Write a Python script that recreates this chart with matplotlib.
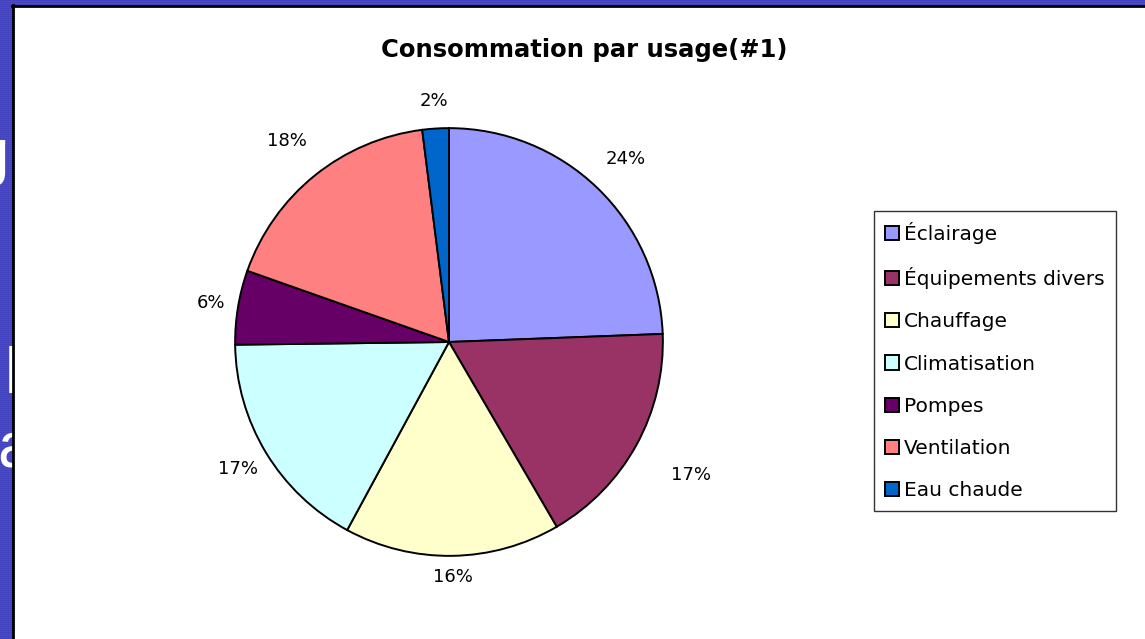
import numpy as np
import matplotlib.pyplot as plt
from matplotlib.patches import Rectangle

plt.rcParams['font.family'] = ['DejaVu Sans']

# données
usages = ['Éclairage', 'Équipements divers', 'Chauffage', 'Climatisation',
          'Pompes', 'Ventilation', 'Eau chaude']
parts = [24.4, 17.2, 16.3, 16.9, 5.6, 17.6, 2.0]
couleurs = ['#9999FF', '#993366', '#FFFFCC', '#CCFFFF', '#660066', '#FF8080', '#0066CC']
titre = 'Consommation par usage(#1)'

W, H = 1145, 639
fig = plt.figure(figsize=(W / 100, H / 100), dpi=100)

# fond rayé de la diapositive
bg = fig.add_axes([0, 0, 1, 1])
rayures = np.zeros((H, 1, 3))
rayures[0::2] = np.array([66, 66, 190]) / 255
rayures[1::2] = np.array([88, 88, 100]) / 255
bg.imshow(rayures, aspect='auto', extent=(0, W, H, 0), interpolation='nearest')
bg.set_xlim(0, W)
bg.set_ylim(H, 0)
bg.axis('off')

# morceaux de texte de la diapositive
for lettre, x, y, ha in [('g', 9, 174, 'right'), ('l', 5, 393, 'left'), ('a', -3, 467, 'left')]:
    bg.text(x, y, lettre, color='white', fontsize=46, ha=ha, va='baseline', zorder=1,
            family='Liberation Sans')

# zone blanche du graphique
bg.add_patch(Rectangle((13, 7), W, H, facecolor='white', edgecolor='none', zorder=2))
bg.plot([12.5, 12.5], [5, H], color='black', lw=2, zorder=3)
bg.plot([11.5, W], [6, 6], color='black', lw=2, zorder=3)

# camembert
cx, cy, r = 449, 342, 216
ax = fig.add_axes([(cx - r) / W, (H - cy - r) / H, 2 * r / W, 2 * r / H])
wedges, _ = ax.pie(parts, colors=couleurs, startangle=90, counterclock=False,
                   wedgeprops=dict(edgecolor='black', linewidth=1.4))
ax.set_xlim(-1.01, 1.01)
ax.set_ylim(-1.01, 1.01)
ax.set_aspect('equal')
ax.axis('off')

dist = [1.19, 1.29, 1.10, 1.15, 1.13, 1.21, 1.13]
for w, p, d in zip(wedges, parts, dist):
    a = np.deg2rad((w.theta1 + w.theta2) / 2)
    ax.text(d * np.cos(a), d * np.sin(a), f'{p:.0f}%', ha='center', va='center',
            fontsize=13, clip_on=False)

fig.text(584 / W, 1 - 50 / H, titre, ha='center', va='center',
         fontsize=17.5, fontweight='bold')

leg = fig.legend(wedges, usages, loc='upper left', bbox_to_anchor=(874 / W, 1 - 211 / H),
                 fontsize=14.5, frameon=True, fancybox=False, borderaxespad=0,
                 handlelength=0.7, handleheight=0.7, handletextpad=0.25,
                 labelspacing=1.15, borderpad=0.55)
leg.get_frame().set_edgecolor('black')
leg.get_frame().set_linewidth(1.0)

fig.savefig('out.png', dpi=100)
